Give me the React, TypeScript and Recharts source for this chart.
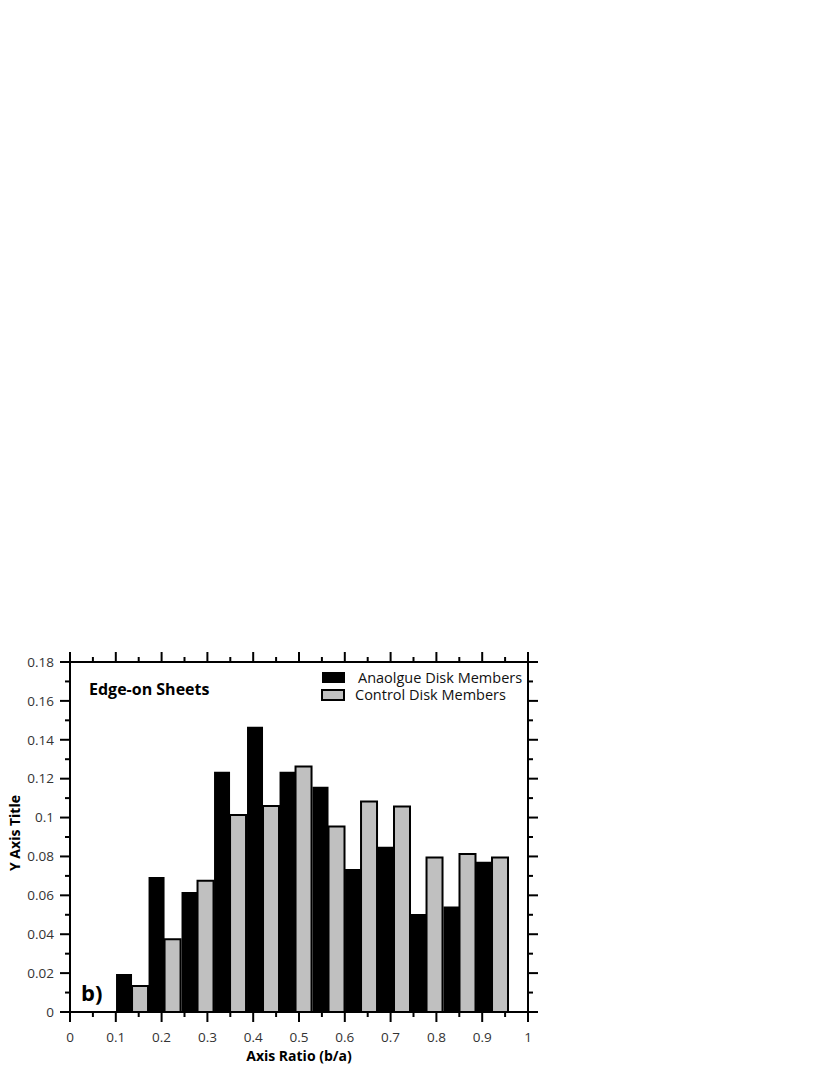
import { BarChart, Bar, XAxis, YAxis, Legend, Label, Customized } from 'recharts';

// bin centres of the axis-ratio histogram (b/a)
const binCenters = [0.136, 0.207, 0.279, 0.35, 0.422, 0.493, 0.565, 0.636, 0.708, 0.779, 0.851, 0.922];
const analogue = [0.0195, 0.0694, 0.0617, 0.1235, 0.1467, 0.1235, 0.1159, 0.0735, 0.085, 0.0504, 0.0542, 0.0773];
const control = [0.0134, 0.0374, 0.0675, 0.1013, 0.106, 0.1263, 0.0954, 0.1083, 0.1057, 0.0795, 0.0813, 0.0795];

const xTicks = [0, 0.05, 0.1, 0.15, 0.2, 0.25, 0.3, 0.35, 0.4, 0.45, 0.5, 0.55, 0.6, 0.65, 0.7, 0.75, 0.8, 0.85, 0.9, 0.95, 1];
const yTicks = [0, 0.01, 0.02, 0.03, 0.04, 0.05, 0.06, 0.07, 0.08, 0.09, 0.1, 0.11, 0.12, 0.13, 0.14, 0.15, 0.16, 0.17, 0.18];

const data = binCenters.map((x, i) => ({ x, analogue: analogue[i], control: control[i] }));

const FONT = '"Open Sans", sans-serif';
const MAJOR = 10;
const MINOR = 5;
const fmt = (v: number) => String(Number(v.toFixed(2)));
const majorY = (v: number) => Math.round(v * 100) % 2 === 0;
const majorX = (v: number) => Math.round(v * 100) % 10 === 0;

function LeftTick({ x, y, payload }: any) {
  const ax = x + MAJOR + 6;
  const major = majorY(payload.value);
  return (
    <g>
      <line x1={ax} x2={ax - (major ? MAJOR : MINOR)} y1={y} y2={y} stroke="#000" strokeWidth={2} />
      {major && (
        <text x={x} y={y} dy="0.355em" textAnchor="end" fill="#333" fontSize={13.5} fontFamily={FONT}>
          {fmt(payload.value)}
        </text>
      )}
    </g>
  );
}

function RightTick({ x, y, payload }: any) {
  const ax = x - MAJOR;
  const major = majorY(payload.value);
  return <line x1={ax} x2={ax + (major ? MAJOR : MINOR)} y1={y} y2={y} stroke="#000" strokeWidth={2} />;
}

function BottomTick({ x, y, payload }: any) {
  const ay = y - MAJOR - 10;
  const major = majorX(payload.value);
  return (
    <g>
      <line x1={x} x2={x} y1={ay} y2={ay + (major ? MAJOR : MINOR)} stroke="#000" strokeWidth={2} />
      {major && (
        <text x={x} y={y} dy="0.71em" textAnchor="middle" fill="#333" fontSize={13.5} fontFamily={FONT}>
          {fmt(payload.value)}
        </text>
      )}
    </g>
  );
}

function TopTick({ x, y, payload }: any) {
  const ay = y + MAJOR;
  const major = majorX(payload.value);
  return <line x1={x} x2={x} y1={ay} y2={ay - (major ? MAJOR : MINOR)} stroke="#000" strokeWidth={2} />;
}

function YTitle({ viewBox }: any) {
  const cx = viewBox.x + 12;
  const cy = viewBox.y + viewBox.height / 2 - 4;
  return (
    <text x={cx} y={cy} transform={`rotate(-90, ${cx}, ${cy})`} textAnchor="middle" fontSize={14} fontWeight="bold" fontFamily={FONT} fill="#000">
      Y Axis Title
    </text>
  );
}

function XTitle({ viewBox }: any) {
  return (
    <text x={viewBox.x + viewBox.width / 2} y={viewBox.y + 49} textAnchor="middle" fontSize={14} fontWeight="bold" fontFamily={FONT} fill="#000">
      Axis Ratio (b/a)
    </text>
  );
}

function Annotations() {
  return (
    <g fontFamily={FONT} fontWeight="bold" fill="#000">
      <text x={89} y={695} fontSize={16}>Edge-on Sheets</text>
      <text x={81} y={1001} fontSize={22}>b)</text>
    </g>
  );
}

function LegendBox({ payload }: any) {
  return (
    <div style={{ fontFamily: FONT, fontSize: 14.5, color: '#111' }}>
      {(payload || []).map((entry: any, i: number) => {
        const grey = entry.dataKey === 'control';
        return (
          <div key={entry.value} style={{ display: 'flex', alignItems: 'center', height: 17, lineHeight: '17px' }}>
            <span
              style={{
                display: 'inline-block',
                boxSizing: 'border-box',
                width: grey ? 24 : 23,
                height: grey ? 12 : 11,
                marginLeft: grey ? 0 : 1,
                background: grey ? '#c0c0c0' : '#000',
                border: grey ? '2px solid #000' : 'none',
              }}
            />
            <span style={{ marginLeft: i === 0 ? 13 : 10 }}>{entry.value}</span>
          </div>
        );
      })}
    </div>
  );
}

export default function App() {
  return (
    <div style={{ position: 'absolute', left: 0, top: 0, width: 830, height: 1075, background: '#fff' }}>
      <BarChart
        width={560}
        height={1075}
        data={data}
        margin={{ top: 650, right: 20, bottom: 13, left: 8 }}
        barCategoryGap={0}
        barGap={0}
      >
        <XAxis
          dataKey="x"
          type="number"
          domain={[0, 1]}
          ticks={xTicks}
          interval={0}
          allowDataOverflow
          height={50}
          tickSize={MAJOR}
          tickMargin={10}
          tickLine={false}
          tick={<BottomTick />}
          axisLine={{ stroke: '#000', strokeWidth: 2 }}
        >
          <Label content={<XTitle />} />
        </XAxis>
        <XAxis
          xAxisId="top"
          orientation="top"
          dataKey="x"
          type="number"
          domain={[0, 1]}
          ticks={xTicks}
          interval={0}
          allowDataOverflow
          height={12}
          tickSize={MAJOR}
          tickMargin={0}
          tickLine={false}
          tick={<TopTick />}
          axisLine={{ stroke: '#000', strokeWidth: 2 }}
        />
        <YAxis
          type="number"
          domain={[0, 0.18]}
          ticks={yTicks}
          interval={0}
          allowDataOverflow
          width={62}
          tickSize={MAJOR}
          tickMargin={6}
          tickLine={false}
          tick={<LeftTick />}
          axisLine={{ stroke: '#000', strokeWidth: 2 }}
        >
          <Label content={<YTitle />} />
        </YAxis>
        <YAxis
          yAxisId="right"
          orientation="right"
          type="number"
          domain={[0, 0.18]}
          ticks={yTicks}
          interval={0}
          allowDataOverflow
          width={12}
          tickSize={MAJOR}
          tickMargin={0}
          tickLine={false}
          tick={<RightTick />}
          axisLine={{ stroke: '#000', strokeWidth: 2 }}
        />
        <Legend
          layout="vertical"
          align="center"
          verticalAlign="middle"
          wrapperStyle={{ position: 'absolute', left: 321, top: 669, width: 220 }}
          content={<LegendBox />}
        />
        <Bar dataKey="analogue" name=" Anaolgue Disk Members" fill="#000" isAnimationActive={false} />
        <Bar dataKey="control" name="Control Disk Members" fill="#c0c0c0" stroke="#000" strokeWidth={2} isAnimationActive={false} />
        <Customized component={Annotations} />
      </BarChart>
    </div>
  );
}
